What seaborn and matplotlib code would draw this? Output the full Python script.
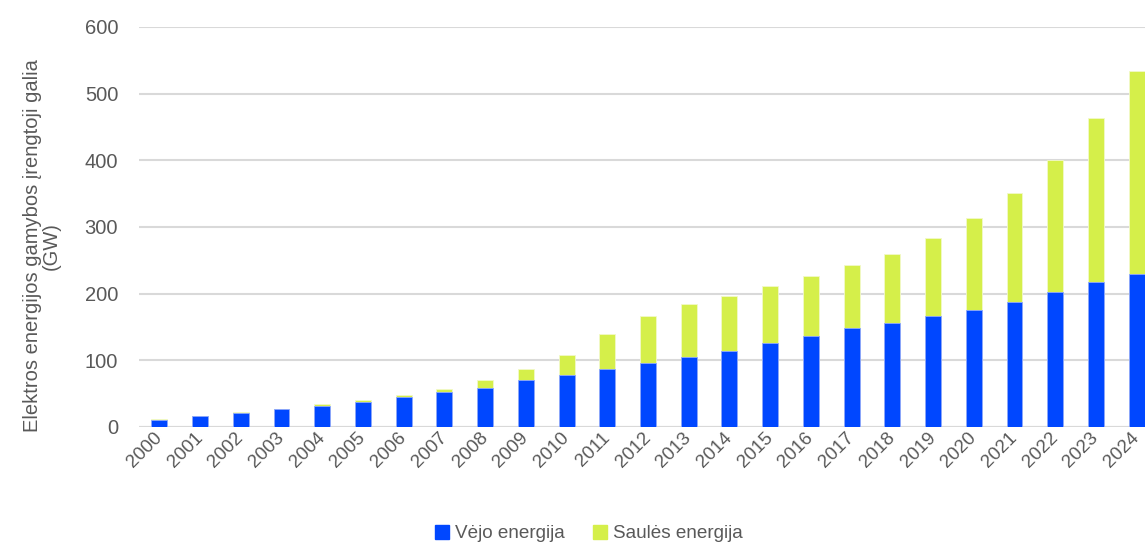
import pandas as pd
import matplotlib.pyplot as plt
import seaborn as sns
from matplotlib.patches import Patch

years = [str(y) for y in range(2000, 2025)]
wind = [11, 16, 21.5, 26.5, 32, 37.5, 44.5, 52.5, 59, 70, 77.5, 86.5, 96, 104.5,
        114.5, 126, 137, 148, 156, 166, 176, 187, 202, 218, 230]
solar = [0.3, 0.4, 0.5, 0.6, 2, 2.5, 3, 5, 11, 17, 31, 52.5, 71, 79.5,
         82.5, 86, 90, 95, 104, 118, 138, 164, 198, 245, 304]

df = pd.DataFrame({'year': years, 'wind': wind, 'solar': solar})
df['total'] = df['wind'] + df['solar']

BLUE = '#0047FF'
GREEN = '#D5EF4A'
GREY = '#595959'

sns.set_style('white')
plt.rcParams['font.family'] = ['Liberation Sans', 'DejaVu Sans']

fig = plt.figure(figsize=(11.45, 5.42), dpi=100)
ax = fig.add_axes([139 / 1145, 115 / 542, 1018 / 1145, 400 / 542])

# stacked bars: total (solar on top) first, wind drawn over it
sns.barplot(data=df, x='year', y='total', color=GREEN, width=0.39,
            edgecolor='#F2F9C8', linewidth=0.6, saturation=1, ax=ax, zorder=3)
sns.barplot(data=df, x='year', y='wind', color=BLUE, width=0.39,
            edgecolor='#8FA8FF', linewidth=0.6, saturation=1, ax=ax, zorder=4)

ax.set_ylim(0, 600)
ax.set_xlim(-0.5, 24.5)
ax.set_yticks(range(0, 601, 100))
ax.yaxis.grid(True, color='#D9D9D9', linewidth=1.5, zorder=0)
ax.set_axisbelow(True)
for s in ['top', 'right', 'left', 'bottom']:
    ax.spines[s].set_visible(False)
ax.axhline(0, color='#D9D9D9', linewidth=1.5, zorder=2)

ax.tick_params(axis='y', length=0, pad=15, labelsize=14.5, labelcolor=GREY)
ax.tick_params(axis='x', length=0, pad=6, labelsize=13.5, labelcolor=GREY)
plt.setp(ax.get_xticklabels(), rotation=45, ha='right', va='center',
         rotation_mode='anchor')

ax.set_xlabel('')
ax.set_ylabel('Elektros energijos gamybos įrengtoji galia\n(GW)',
              fontsize=14.5, color=GREY, linespacing=0.95)
ax.yaxis.set_label_coords(-0.077, 0.4525)

handles = [Patch(color=BLUE, label='Vėjo energija'),
           Patch(color=GREEN, label='Saulės energija')]
fig.legend(handles=handles, loc='lower center', bbox_to_anchor=(0.514, -0.032),
           ncol=2, frameon=False, fontsize=13.6, handlelength=0.75,
           handleheight=0.75, handletextpad=0.3, columnspacing=1.5,
           labelcolor=GREY)

fig.savefig('out.png', dpi=100)
